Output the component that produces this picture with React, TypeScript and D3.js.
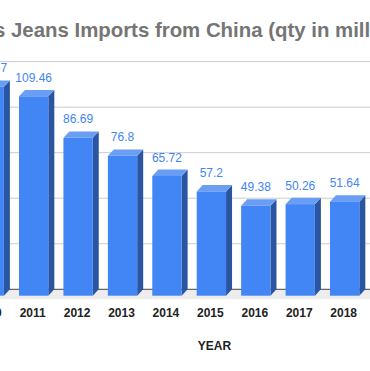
import React from "react";
import * as d3 from "d3";

const years = ["2010", "2011", "2012", "2013", "2014", "2015", "2016", "2017", "2018"];
const values = [114.67, 109.46, 86.69, 76.8, 65.72, 57.2, 49.38, 50.26, 51.64];
const yTicks = [0, 25, 50, 75, 100, 125];
const title = "Mens Jeans Imports from China (qty in millions)";
const xTitle = "YEAR";

const W = 370;
const H = 371;
const DX = 6;
const DY = 6.4;

export default function App() {
  const y = d3.scaleLinear().domain([0, 125]).range([289.3, 61.6]);
  const x = d3
    .scaleBand<string>()
    .domain(years)
    .range([-25.43, -25.43 + 44.43 * (years.length - 0.34)])
    .paddingInner(0.34)
    .paddingOuter(0);
  const bw = x.bandwidth();
  const base = y(0);
  const fontFamily = "'Liberation Sans', Arial, sans-serif";

  return (
    <svg
      width={W}
      height={H}
      style={{ position: "absolute", left: 0, top: 0, background: "#fff" }}
      fontFamily={fontFamily}
    >
      <rect x={0} y={0} width={W} height={H} fill="#fff" />
      <text x={-46.8} y={36.7} fontSize={20.4} fontWeight="bold" fill="#757575">
        {title}
      </text>
      {yTicks.slice(1).map((t) => (
        <line key={t} x1={0} x2={W} y1={y(t)} y2={y(t)} stroke="#cccccc" strokeWidth={1} />
      ))}
      <rect x={0} y={base} width={W} height={10} fill="#ededed" />
      <line x1={0} x2={W} y1={base} y2={base} stroke="#444" strokeWidth={1} />
      {years.map((yr, i) => {
        const v = values[i];
        const x0 = x(yr) as number;
        const x1 = x0 + bw;
        const fTop = y(v) + DY;
        const fBot = base + DY;
        const top = `M${x0},${fTop}L${x0 + DX},${fTop - DY}L${x1 + DX},${fTop - DY}L${x1},${fTop}Z`;
        const side = `M${x1},${fTop}L${x1 + DX},${fTop - DY}L${x1 + DX},${fBot - DY}L${x1},${fBot}Z`;
        return (
          <g key={yr}>
            <path d={side} fill="#2a55a0" />
            <path d={top} fill="#6a9ef5" />
            <rect x={x0} y={fTop} width={bw} height={fBot - fTop} fill="#4285f4" />
            <text
              x={x0 + bw / 2}
              y={y(v) - 8}
              textAnchor="middle"
              fontSize={12}
              fill="#4285f4"
            >
              {String(v)}
            </text>
            <text
              x={x0 + bw / 2 - 1}
              y={316.7}
              textAnchor="middle"
              fontSize={12}
              fontWeight="bold"
              fill="#222"
            >
              {yr}
            </text>
          </g>
        );
      })}
      <text x={214.5} y={349.5} textAnchor="middle" fontSize={12} fontWeight="bold" fill="#222">
        {xTitle}
      </text>
    </svg>
  );
}
